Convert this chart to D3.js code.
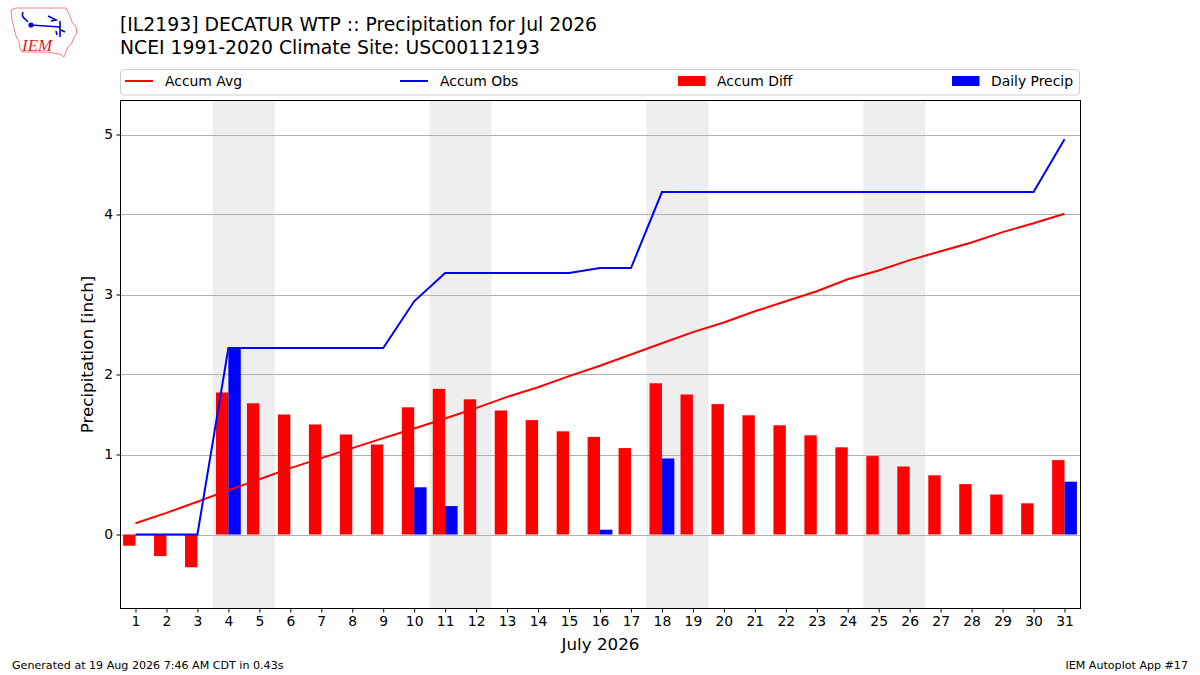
<!DOCTYPE html>
<html>
<head>
<meta charset="utf-8">
<script src="https://cdn.jsdelivr.net/npm/d3@7"></script>
<style>
  html, body { margin: 0; padding: 0; background: #fff; }
  svg { display: block; font-family: "DejaVu Sans", sans-serif; }
</style>
</head>
<body>
<svg id="chart" width="1200" height="675"></svg>
<script>
// ---------------- data ----------------
const days = d3.range(1, 32);
const accumAvg = [0.14, 0.27, 0.41, 0.555, 0.69, 0.83, 0.955, 1.08, 1.205, 1.325,
  1.45, 1.58, 1.72, 1.84, 1.98, 2.11, 2.25, 2.39, 2.53, 2.65,
  2.79, 2.915, 3.04, 3.19, 3.30, 3.43, 3.54, 3.65, 3.78, 3.89, 4.01];
const accumObs = [0, 0, 0, 2.33, 2.33, 2.33, 2.33, 2.33, 2.33, 2.915,
  3.27, 3.27, 3.27, 3.27, 3.27, 3.33, 3.33, 4.28, 4.28, 4.28,
  4.28, 4.28, 4.28, 4.28, 4.28, 4.28, 4.28, 4.28, 4.28, 4.28, 4.94];
const accumDiff = [-0.14, -0.27, -0.41, 1.775, 1.64, 1.50, 1.375, 1.25, 1.125, 1.59,
  1.82, 1.69, 1.55, 1.43, 1.29, 1.22, 1.08, 1.89, 1.75, 1.63,
  1.49, 1.365, 1.24, 1.09, 0.98, 0.85, 0.74, 0.63, 0.50, 0.39, 0.93];
const dailyPrecip = [0, 0, 0, 2.33, 0, 0, 0, 0, 0, 0.59,
  0.355, 0, 0, 0, 0, 0.06, 0, 0.95, 0, 0,
  0, 0, 0, 0, 0, 0, 0, 0, 0, 0, 0.66];
const weekendStarts = [4, 11, 18, 25];   // Saturday of each weekend (Sat+Sun shaded)
const yTicks = [0, 1, 2, 3, 4, 5];
const xTickLabels = days.map(String);
const titleLines = ["[IL2193] DECATUR WTP :: Precipitation for Jul 2026",
  "NCEI 1991-2020 Climate Site: USC00112193"];
const legendItems = [
  {label: "Accum Avg", type: "line", color: "#ff0000"},
  {label: "Accum Obs", type: "line", color: "#0000ff"},
  {label: "Accum Diff", type: "rect", color: "#ff0000"},
  {label: "Daily Precip", type: "rect", color: "#0000ff"}
];

// ---------------- layout ----------------
const svg = d3.select("#chart");
const L = 120.5, R = 1080.5, T = 100.5, B = 608.5;
const x = d3.scaleLinear().domain([0.516, 31.516]).range([L, R]);
const y = d3.scaleLinear().domain([-0.925, 5.425]).range([B, T]);
const barW = 0.4;

// logo
const logo = svg.append("g");
logo.append("path")
  .attr("d", "M11,10 L16,8 L66,8 L68,12 L70,16 L72,22 L76,27 L77,33 L74,37 L72,43 L68,47 L66,52 L64,57 L60,54 L46,52 L22,52 L20,48 L19,42 L16,36 L14,28 L12,20 Z")
  .attr("fill", "none").attr("stroke", "#f08080").attr("stroke-width", 1);
logo.append("path").attr("d", "M23,12 Q21,16 25,19 L28,22 M31,25 L60,27 M48,16 L56,20 L51,21 M60,21 L60,37 M56,31 L57,35 M61,30 L65,32")
  .attr("fill", "none").attr("stroke", "#0000cc").attr("stroke-width", 1.6);
logo.append("circle").attr("cx", 31).attr("cy", 25).attr("r", 2.6).attr("fill", "#0000cc");
logo.append("text").attr("x", 22).attr("y", 51).text("IEM")
  .attr("font-family", "'Liberation Serif', serif").attr("font-style", "italic")
  .attr("font-size", 17).attr("fill", "#dd2222");

// title
svg.append("text").attr("x", 120).attr("y", 31).attr("font-size", 18.8).attr("fill", "#000").text(titleLines[0]);
svg.append("text").attr("x", 120).attr("y", 54).attr("font-size", 18.8).attr("fill", "#000").text(titleLines[1]);

// legend
const lg = svg.append("g");
lg.append("rect").attr("x", 120.5).attr("y", 69.5).attr("width", 959).attr("height", 25.5).attr("rx", 3)
  .attr("fill", "#fff").attr("stroke", "#d0d0d0").attr("stroke-width", 1);
const legX = [125, 400, 678, 952];
legendItems.forEach((it, i) => {
  const g = lg.append("g").attr("transform", `translate(${legX[i]},0)`);
  if (it.type === "line") {
    g.append("line").attr("x1", 0).attr("x2", 28).attr("y1", 81).attr("y2", 81)
      .attr("stroke", it.color).attr("stroke-width", 2);
  } else {
    g.append("rect").attr("x", 0).attr("y", 76).attr("width", 27.5).attr("height", 10).attr("fill", it.color);
  }
  g.append("text").attr("x", it.type === "line" ? 40 : 39).attr("y", 86).attr("font-size", 13.9).attr("fill", "#000").text(it.label);
});

// weekend bands
const plot = svg.append("g");
plot.selectAll("rect.wk").data(weekendStarts).join("rect").attr("class", "wk")
  .attr("x", d => x(d - 0.5)).attr("width", d => x(d + 1.5) - x(d - 0.5))
  .attr("y", T).attr("height", B - T).attr("fill", "#eeeeee");

// grid
plot.selectAll("line.grid").data(yTicks).join("line").attr("class", "grid")
  .attr("x1", L).attr("x2", R).attr("y1", d => Math.round(y(d)) + 0.5).attr("y2", d => Math.round(y(d)) + 0.5)
  .attr("stroke", "#b0b0b0").attr("stroke-width", 1);

// bars
plot.selectAll("rect.diff").data(days).join("rect").attr("class", "diff")
  .attr("x", d => x(d - barW)).attr("width", x(barW) - x(0))
  .attr("y", (d, i) => y(Math.max(0, accumDiff[i])))
  .attr("height", (d, i) => Math.abs(y(accumDiff[i]) - y(0)))
  .attr("fill", "#ff0000");
plot.selectAll("rect.daily").data(days.filter((d, i) => dailyPrecip[i] > 0)).join("rect").attr("class", "daily")
  .attr("x", d => x(d)).attr("width", x(barW) - x(0))
  .attr("y", d => y(dailyPrecip[d - 1]))
  .attr("height", d => y(0) - y(dailyPrecip[d - 1]))
  .attr("fill", "#0000ff");

// lines
const lineGen = arr => d3.line().x((d, i) => x(days[i])).y(d => y(d))(arr);
plot.append("path").attr("d", lineGen(accumAvg)).attr("fill", "none").attr("stroke", "#ff0000").attr("stroke-width", 2);
plot.append("path").attr("d", lineGen(accumObs)).attr("fill", "none").attr("stroke", "#0000ff").attr("stroke-width", 2);

// frame
svg.append("rect").attr("x", L).attr("y", T).attr("width", R - L).attr("height", B - T)
  .attr("fill", "none").attr("stroke", "#000").attr("stroke-width", 1);

// axes
const xAxis = d3.axisBottom(x).tickValues(days).tickFormat((d, i) => xTickLabels[i]).tickSize(4).tickPadding(3.5);
const gx = svg.append("g").attr("transform", `translate(0,${B})`).call(xAxis);
const yAxis = d3.axisLeft(y).tickValues(yTicks).tickFormat(d3.format("d")).tickSize(4).tickPadding(3.5);
const gy = svg.append("g").attr("transform", `translate(${L},0)`).call(yAxis);
[gx, gy].forEach(g => {
  g.select(".domain").remove();
  g.selectAll("text").attr("font-size", 13.9).attr("font-family", "'DejaVu Sans', sans-serif").attr("fill", "#000");
  g.selectAll("line").attr("stroke", "#000");
});

svg.append("text").attr("x", (L + R) / 2).attr("y", 650).attr("text-anchor", "middle")
  .attr("font-size", 16.7).text("July 2026");
svg.append("text").attr("transform", `translate(93,${(T + B) / 2}) rotate(-90)`).attr("text-anchor", "middle")
  .attr("font-size", 16.7).text("Precipitation [inch]");

// footer
svg.append("text").attr("x", 12).attr("y", 669).attr("font-size", 11.1).text("Generated at 19 Aug 2026 7:46 AM CDT in 0.43s");
svg.append("text").attr("x", 1188).attr("y", 669).attr("text-anchor", "end").attr("font-size", 11.1).text("IEM Autoplot App #17");
</script>
</body>
</html>
